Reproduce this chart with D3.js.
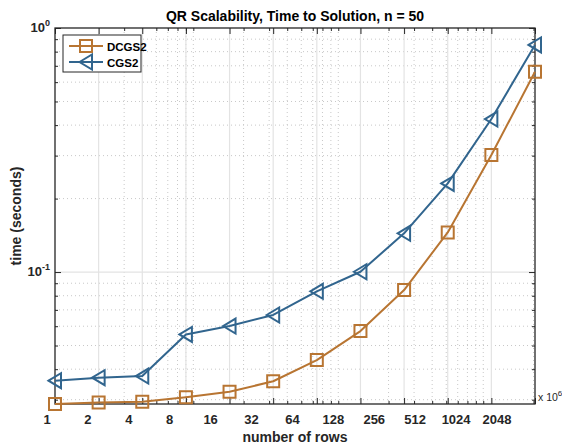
<!DOCTYPE html>
<html>
<head>
<meta charset="utf-8">
<script src="https://cdn.jsdelivr.net/npm/d3@7"></script>
<style>
body { margin: 0; background: #fff; }
text { font-family: "Liberation Sans", Arial, sans-serif; }
</style>
</head>
<body>
<svg id="chart" width="562" height="446"></svg>
<script>
let rows = [1, 2, 4, 8, 16, 32, 64, 128, 256, 512, 1024, 2048];
let rowLabels = ["1", "2", "4", "8", "16", "32", "64", "128", "256", "512", "1024", "2048"];
let dcgs2 = [0.0288, 0.0292, 0.0294, 0.0307, 0.0323, 0.0357, 0.0436, 0.0573, 0.0844, 0.1454, 0.3016, 0.662];
let cgs2 = [0.0359, 0.0369, 0.0375, 0.0555, 0.0601, 0.0667, 0.0834, 0.1003, 0.1441, 0.2308, 0.4236, 0.852];
let yMajor = [0.1, 1];
let yMinor = [0.03, 0.04, 0.05, 0.06, 0.07, 0.08, 0.09, 0.2, 0.3, 0.4, 0.5, 0.6, 0.7, 0.8, 0.9];
let xMinor = [3, 5, 6, 7, 8, 9, 20, 30, 40, 50, 60, 70, 80, 90, 200, 300, 400, 500, 600, 700, 800, 900, 2000];

let svg = d3.select("#chart");
let margin = {top: 28, right: 27, bottom: 42, left: 55};
let width = +svg.attr("width") - margin.left - margin.right;
let height = +svg.attr("height") - margin.top - margin.bottom;
let g = svg.append("g").attr("transform", "translate(" + margin.left + "," + margin.top + ")");

let axisColor = "#262626";
let colors = {dcgs2: "#b87532", cgs2: "#31658e"};

let x = d3.scaleLog().domain([1e6, 2048e6]).range([0, width]);
let y = d3.scaleLog().domain([0.0288, 1]).range([height, 0]);
// tick labels sit on an even spacing of their own in the reference
let xLabel = d3.scalePoint().domain(rowLabels).range([47 - margin.left, 497 - margin.left]);

// grid
let grid = g.append("g");
grid.selectAll(".xminor").data(xMinor.map(d => d * 1e6).filter(d => d < 2048e6)).enter().append("line")
    .attr("x1", d => x(d)).attr("x2", d => x(d)).attr("y1", 0).attr("y2", height)
    .attr("stroke", "#c8c8c8").attr("stroke-width", 1).attr("stroke-dasharray", "1,3");
grid.selectAll(".yminor").data(yMinor).enter().append("line")
    .attr("x1", 0).attr("x2", width).attr("y1", d => y(d)).attr("y2", d => y(d))
    .attr("stroke", "#c8c8c8").attr("stroke-width", 1).attr("stroke-dasharray", "1,3");
grid.selectAll(".xmajor").data(rows.slice(1, -1)).enter().append("line")
    .attr("x1", d => x(d * 1e6)).attr("x2", d => x(d * 1e6)).attr("y1", 0).attr("y2", height)
    .attr("stroke", "#e3e3e3").attr("stroke-width", 1.2);
grid.selectAll(".ymajor").data([0.1]).enter().append("line")
    .attr("x1", 0).attr("x2", width).attr("y1", d => y(d)).attr("y2", d => y(d))
    .attr("stroke", "#e3e3e3").attr("stroke-width", 1.2);

// axes with inward ticks on all four sides
function styleAxis(sel) {
    sel.select(".domain").remove();
    sel.selectAll(".tick line").attr("stroke", axisColor).attr("stroke-width", 1);
    sel.selectAll("text").remove();
}
let xTicks = rows.map(d => d * 1e6);
let xMinorTicks = xMinor.map(d => d * 1e6).filter(d => d < 2048e6);
g.append("g").attr("transform", "translate(0," + height + ")")
    .call(d3.axisBottom(x).tickValues(xTicks).tickSize(-6)).call(styleAxis);
g.append("g").attr("transform", "translate(0," + height + ")")
    .call(d3.axisBottom(x).tickValues(xMinorTicks).tickSize(-3)).call(styleAxis);
g.append("g").call(d3.axisTop(x).tickValues(xTicks).tickSize(-6)).call(styleAxis);
g.append("g").call(d3.axisTop(x).tickValues(xMinorTicks).tickSize(-3)).call(styleAxis);
g.append("g").call(d3.axisLeft(y).tickValues(yMajor).tickSize(-6)).call(styleAxis);
g.append("g").call(d3.axisLeft(y).tickValues(yMinor).tickSize(-3)).call(styleAxis);
g.append("g").attr("transform", "translate(" + width + ",0)")
    .call(d3.axisRight(y).tickValues(yMajor).tickSize(-6)).call(styleAxis);
g.append("g").attr("transform", "translate(" + width + ",0)")
    .call(d3.axisRight(y).tickValues(yMinor).tickSize(-3)).call(styleAxis);

g.append("rect").attr("width", width).attr("height", height)
    .attr("fill", "none").attr("stroke", axisColor).attr("stroke-width", 1.3);

// tick labels
g.selectAll(".xlab").data(rowLabels).enter().append("text")
    .attr("x", d => xLabel(d)).attr("y", height + 20)
    .attr("text-anchor", "middle").attr("font-size", 13).attr("font-weight", "bold")
    .attr("fill", axisColor).text(d => d);

let ylab = g.selectAll(".ylab").data(yMajor).enter().append("text")
    .attr("x", -5).attr("y", d => y(d) + 4)
    .attr("text-anchor", "end").attr("font-size", 13).attr("font-weight", "bold")
    .attr("fill", axisColor);
ylab.append("tspan").text("10");
ylab.append("tspan").attr("dy", -6).attr("font-size", 9).text(d => Math.round(Math.log10(d)));

let ex = g.append("text").attr("x", width + 3).attr("y", height - 3)
    .attr("font-size", 10.5).attr("fill", axisColor);
ex.append("tspan").text("x 10");
ex.append("tspan").attr("dy", -5).attr("font-size", 8).text("6");

// titles
svg.append("text").attr("x", margin.left + width / 2).attr("y", 21)
    .attr("text-anchor", "middle").attr("font-size", 14).attr("font-weight", "bold")
    .attr("fill", "#000").text("QR Scalability, Time to Solution, n = 50");
svg.append("text").attr("x", margin.left + width / 2).attr("y", 442)
    .attr("text-anchor", "middle").attr("font-size", 14).attr("font-weight", "bold")
    .attr("fill", axisColor).text("number of rows");
svg.append("text").attr("transform", "translate(21," + (margin.top + height / 2) + ") rotate(-90)")
    .attr("text-anchor", "middle").attr("font-size", 14).attr("font-weight", "bold")
    .attr("fill", axisColor).text("time (seconds)");

// series
let series = [
    {name: "DCGS2", values: dcgs2, color: colors.dcgs2, marker: "square"},
    {name: "CGS2", values: cgs2, color: colors.cgs2, marker: "triangle"}
];
let line = d3.line().x(d => x(d[0] * 1e6)).y(d => y(d[1]));
let markerPath = {
    square: "M-6,-6L6,-6L6,6L-6,6Z",
    triangle: "M-6.5,0L6,-7.5L6,7.5Z"
};

series.forEach(s => {
    let pts = rows.map((r, i) => [r, s.values[i]]);
    g.append("path").datum(pts).attr("d", line)
        .attr("fill", "none").attr("stroke", s.color).attr("stroke-width", 2)
        .attr("stroke-linejoin", "round");
    g.selectAll(".m-" + s.marker).data(pts).enter().append("path")
        .attr("transform", d => "translate(" + x(d[0] * 1e6) + "," + y(d[1]) + ")")
        .attr("d", markerPath[s.marker])
        .attr("fill", "none").attr("stroke", s.color).attr("stroke-width", 2);
});

// legend
let legend = svg.append("g").attr("transform", "translate(63,35)");
legend.append("rect").attr("width", 78).attr("height", 37)
    .attr("fill", "#fff").attr("stroke", axisColor).attr("stroke-width", 1);
let item = legend.selectAll(".item").data(series).enter().append("g")
    .attr("transform", (d, i) => "translate(0," + (11 + i * 16) + ")");
item.append("line").attr("x1", 6).attr("x2", 40)
    .attr("stroke", d => d.color).attr("stroke-width", 2);
item.append("path").attr("transform", "translate(23,0)")
    .attr("d", d => markerPath[d.marker])
    .attr("fill", "none").attr("stroke", d => d.color).attr("stroke-width", 2);
item.append("text").attr("x", 44).attr("y", 4.5)
    .attr("font-size", 11.5).attr("font-weight", "bold").attr("fill", "#000")
    .text(d => d.name);
</script>
</body>
</html>
